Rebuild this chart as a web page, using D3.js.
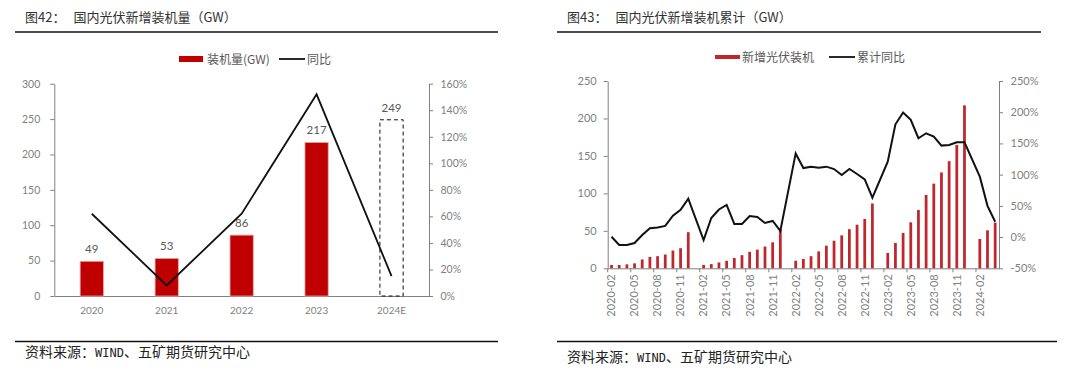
<!DOCTYPE html>
<html>
<head>
<meta charset="utf-8">
<script src="https://cdn.jsdelivr.net/npm/d3@7"></script>
<style>
  body { margin: 0; background: #fff; }
  svg { display: block; }
  .cjk { font-family: "Noto Sans CJK SC", sans-serif; }
  .tick text { font-family: Lato, "Noto Sans", sans-serif; fill: #7f7f7f; }
  .domain, .tick line { stroke: #808080; }
</style>
</head>
<body>
<script>
// ---- 图42 data ----
const years = ["2020", "2021", "2022", "2023", "2024E"];
const installs = [49, 53, 86, 217, 249];
const yoy = [62, 8, 62, 152, 15];
const leftTicks = [0, 50, 100, 150, 200, 250, 300];
const leftPctTicks = [0, 20, 40, 60, 80, 100, 120, 140, 160];

// ---- 图43 data (cumulative, Jan merged into Feb) ----
const months = [
  "2020-02","2020-03","2020-04","2020-05","2020-06","2020-07","2020-08","2020-09","2020-10","2020-11","2020-12",
  "2021-01","2021-02","2021-03","2021-04","2021-05","2021-06","2021-07","2021-08","2021-09","2021-10","2021-11","2021-12",
  "2022-01","2022-02","2022-03","2022-04","2022-05","2022-06","2022-07","2022-08","2022-09","2022-10","2022-11","2022-12",
  "2023-01","2023-02","2023-03","2023-04","2023-05","2023-06","2023-07","2023-08","2023-09","2023-10","2023-11","2023-12",
  "2024-01","2024-02","2024-03","2024-04"
];
const cumInstall = [
  4.4, 4.4, 5.3, 6.6, 11.8, 15.2, 16.2, 18.4, 23.7, 26.8, 48.2,
  null, 4.5, 5.6, 7.8, 10.0, 13.8, 17.5, 22.0, 24.9, 29.0, 34.7, 52.0,
  null, 10.1, 12.5, 16.2, 22.5, 30.2, 36.8, 44.0, 52.2, 58.2, 65.8, 86.5,
  null, 20.5, 33.8, 47.3, 61.4, 77.8, 97.9, 113.0, 128.0, 143.0, 164.6, 217.5,
  null, 39.1, 50.7, 61.0
];
const cumYoy = [
  0.5, -12.6, -12.6, -9.5, 3.2, 14.2, 15.3, 17.9, 34.2, 43.7, 61.6,
  null, -4.7, 30.5, 44.2, 51.6, 21, 21, 33.7, 32.1, 22.6, 25.8, 10,
  null, 134, 110.6, 112.8, 111.2, 112.8, 109, 99.5, 109, 101, 92.5, 63.2,
  null, 120.9, 180.7, 199.5, 187.7, 158.3, 166.3, 161, 146.5, 147.6, 151.9, 151.9,
  null, 96.8, 50, 24.6
];
const rightTicks = [0, 50, 100, 150, 200, 250];
const rightPctTicks = [-50, 0, 50, 100, 150, 200, 250];

const svg = d3.select("body").append("svg")
  .attr("width", 1080).attr("height", 370);

// ---- frame: titles, rules, source ----
function frame(x0, title, ruleTop, ruleBottom, srcY) {
  const t = svg.append("text").attr("class", "cjk")
    .attr("x", x0).attr("y", 22).attr("font-size", 13).attr("fill", "#333");
  t.append("tspan").text(title[0]);
  t.append("tspan").attr("dx", 8).text(title[1]);
  svg.append("line").attr("x1", ruleTop[0]).attr("x2", ruleTop[1])
    .attr("y1", 32).attr("y2", 32).attr("stroke", "#111").attr("stroke-width", 1.5);
  svg.append("line").attr("x1", ruleBottom[0]).attr("x2", ruleBottom[1])
    .attr("y1", 341.5).attr("y2", 341.5).attr("stroke", "#111").attr("stroke-width", 1.5);
  const s = svg.append("text").attr("class", "cjk")
    .attr("x", x0).attr("y", srcY).attr("font-size", 14).attr("fill", "#222");
  s.append("tspan").text("资料来源：");
  s.append("tspan").attr("font-family", "'DejaVu Sans Mono', monospace")
    .attr("font-size", 12).text("WIND");
  s.append("tspan").text("、五矿期货研究中心");
}
frame(25, ["图42：", "国内光伏新增装机量（GW）"], [15, 498], [15, 498], 357);
frame(567, ["图43：", "国内光伏新增装机累计（GW）"], [557, 1041], [557, 1057], 362);

// ---- 图42 ----
const xA = d3.scaleBand().domain(years).range([54.3, 429])
  .paddingInner(0.69).paddingOuter(0.345);
const yA = d3.scaleLinear().domain([0, 300]).range([296, 83.7]);
const yA2 = d3.scaleLinear().domain([0, 160]).range([296, 83.7]);

const gA = svg.append("g");
gA.append("g").attr("transform", "translate(54.3,0)")
  .call(d3.axisLeft(yA).tickValues(leftTicks).tickSize(4).tickPadding(10).tickSizeOuter(0))
  .call(g => g.selectAll("text").attr("font-size", 10.5));
gA.append("g").attr("transform", "translate(429,0)")
  .call(d3.axisRight(yA2).tickValues(leftPctTicks).tickSize(4).tickPadding(7.5).tickSizeOuter(0)
    .tickFormat(d => d + "%"))
  .call(g => g.selectAll("text").attr("font-size", 10.5));
gA.append("g").attr("transform", "translate(0,296)")
  .call(d3.axisBottom(xA).tickSize(0).tickPadding(11).tickSizeOuter(0))
  .call(g => g.selectAll("text").attr("font-size", 10));

const barsA = years.map((y, i) => ({ y, v: installs[i], est: y.endsWith("E") }));
gA.selectAll(".barA").data(barsA).enter().append("rect")
  .attr("x", d => xA(d.y))
  .attr("y", d => yA(d.v))
  .attr("width", xA.bandwidth())
  .attr("height", d => yA(0) - yA(d.v))
  .attr("fill", d => d.est ? "none" : "#C00000")
  .attr("stroke", d => d.est ? "#111" : "#E8A6A6")
  .attr("stroke-width", d => d.est ? 1 : 0.8)
  .attr("stroke-dasharray", d => d.est ? "4,3" : null);

gA.selectAll(".lblA").data(barsA).enter().append("text")
  .attr("x", d => xA(d.y) + xA.bandwidth() / 2)
  .attr("y", d => yA(d.v) - 8)
  .attr("text-anchor", "middle")
  .attr("font-family", "Lato, sans-serif").attr("font-size", 11.5).attr("fill", "#595959")
  .text(d => d.v);

gA.append("path")
  .datum(years.map((y, i) => [xA(y) + xA.bandwidth() / 2, yA2(yoy[i])]))
  .attr("d", d3.line())
  .attr("fill", "none").attr("stroke", "#111").attr("stroke-width", 1.8);

// legend 42
gA.append("rect").attr("x", 179).attr("y", 56).attr("width", 24).attr("height", 6).attr("fill", "#C00000");
gA.append("text").attr("class", "cjk").attr("x", 207).attr("y", 63.5)
  .attr("font-size", 12).attr("fill", "#595959").text("装机量(GW)");
gA.append("line").attr("x1", 279).attr("x2", 305).attr("y1", 59).attr("y2", 59)
  .attr("stroke", "#111").attr("stroke-width", 1.8);
gA.append("text").attr("class", "cjk").attr("x", 307).attr("y", 63.5)
  .attr("font-size", 12).attr("fill", "#595959").text("同比");

// ---- 图43 ----
const xB = d3.scaleBand().domain(months).range([607.7, 999])
  .paddingInner(0.64).paddingOuter(0.32);
const yB = d3.scaleLinear().domain([0, 250]).range([268.3, 81]);
const yB2 = d3.scaleLinear().domain([-50, 250]).range([268.3, 81]);

const gB = svg.append("g");
gB.append("g").attr("transform", "translate(607.7,0)")
  .call(d3.axisLeft(yB).tickValues(rightTicks).tickSize(4).tickPadding(7).tickSizeOuter(0))
  .call(g => g.selectAll("text").attr("font-size", 11));
gB.append("g").attr("transform", "translate(999,0)")
  .call(d3.axisRight(yB2).tickValues(rightPctTicks).tickSize(4).tickPadding(7.5).tickSizeOuter(0)
    .tickFormat(d => d + "%"))
  .call(g => g.selectAll("text").attr("font-size", 11));

const labelled = months.filter((m, i) => i % 3 === 0);
gB.append("g").attr("transform", "translate(0,268.3)")
  .call(d3.axisBottom(xB).tickValues(labelled).tickSize(0).tickSizeOuter(0))
  .call(g => g.selectAll("text")
    .attr("font-size", 11)
    .attr("transform", "rotate(-90)")
    .attr("text-anchor", "end")
    .attr("x", -6).attr("y", 0).attr("dy", "0.35em"));

// tick marks sit on the category boundaries
const half = (xB.step() - xB.bandwidth()) / 2;
gB.selectAll(".xtick").data(labelled).enter().append("line")
  .attr("x1", d => xB(d) - half).attr("x2", d => xB(d) - half)
  .attr("y1", 268.3).attr("y2", 272.3)
  .attr("stroke", "#808080");

const barsB = months.map((m, i) => ({ m, v: cumInstall[i], r: cumYoy[i] }));
gB.selectAll(".barB").data(barsB.filter(d => d.v != null)).enter().append("rect")
  .attr("x", d => xB(d.m))
  .attr("y", d => yB(d.v))
  .attr("width", xB.bandwidth())
  .attr("height", d => yB(0) - yB(d.v))
  .attr("fill", "#C0272D");

gB.append("path")
  .datum(barsB.filter(d => d.r != null))
  .attr("d", d3.line().x(d => xB(d.m) + xB.bandwidth() / 2).y(d => yB2(d.r)))
  .attr("fill", "none").attr("stroke", "#111").attr("stroke-width", 2);

// legend 43
gB.append("rect").attr("x", 715).attr("y", 55).attr("width", 25).attr("height", 4).attr("fill", "#C0272D");
gB.append("text").attr("class", "cjk").attr("x", 742).attr("y", 61.5)
  .attr("font-size", 12).attr("fill", "#595959").text("新增光伏装机");
gB.append("line").attr("x1", 829).attr("x2", 855).attr("y1", 57).attr("y2", 57)
  .attr("stroke", "#111").attr("stroke-width", 1.8);
gB.append("text").attr("class", "cjk").attr("x", 857).attr("y", 61.5)
  .attr("font-size", 12).attr("fill", "#595959").text("累计同比");
</script>
</body>
</html>
